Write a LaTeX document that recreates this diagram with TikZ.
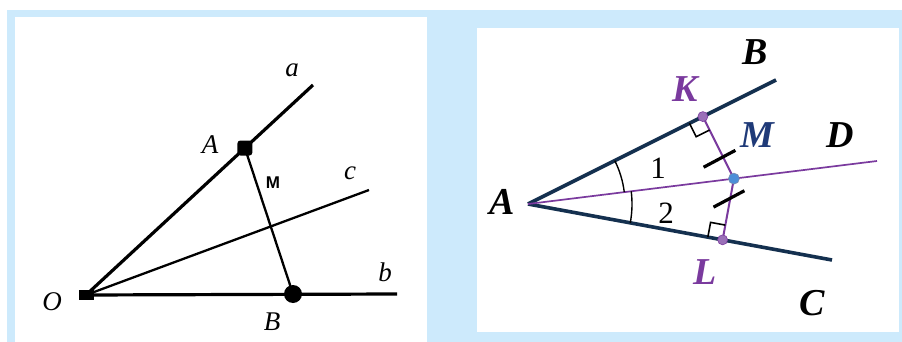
\documentclass[tikz,border=0pt]{standalone}
\usepackage{fontspec}
\setmainfont{Liberation Serif}
\setsansfont{Liberation Sans}
\usetikzlibrary{calc}
\definecolor{bgblue}{HTML}{CDEAFC}
\definecolor{navy}{HTML}{14304F}
\definecolor{purp}{HTML}{7A3A9E}
\definecolor{mblue}{HTML}{1F3A78}
\definecolor{kdot}{HTML}{9A70B8}
\definecolor{mdot}{HTML}{4C8FD8}
\begin{document}
\begin{tikzpicture}[x=1pt,y=-1pt,
  lray/.style={line width=3.2pt,black},
  lthin/.style={line width=2.3pt,black},
  llab/.style={inner sep=0pt,font=\fontsize{27}{27}\selectfont\itshape},
  rray/.style={line width=3.6pt,navy},
  bis/.style={line width=1.7pt,purp},
  perp/.style={line width=2pt,purp},
  tick/.style={line width=3.2pt,black},
  rangle/.style={line width=1.6pt,black},
  arcline/.style={line width=1.4pt,black},
  rlab/.style={inner sep=0pt,font=\fontsize{38}{38}\selectfont\bfseries\itshape},
  numlab/.style={inner sep=0pt,font=\fontsize{31}{31}\selectfont}]
\useasboundingbox (0,0) rectangle (902,342);
\fill[white] (0,0) rectangle (902,342);
\fill[bgblue] (7,10) rectangle (902,342);
\fill[white] (15,17) rectangle (427,342);
\fill[white] (477,28) rectangle (899,332);
% ---------- left figure ----------
\coordinate (O) at (86,295);
\coordinate (Ea) at (313,85);
\coordinate (Ec) at (369,190);
\coordinate (Eb) at (397,294);
\coordinate (PA) at ($(O)!0.70!(Ea)$);
\coordinate (PB) at (293,294);
\draw[lray] (O) -- (Ea);
\draw[lray] (O) -- (Eb);
\draw[lthin] (O) -- (Ec);
\draw[lthin] (PA) -- (PB);
\node[fill=black,minimum width=15pt,minimum height=10pt,inner sep=0pt] (mO) at (O) {};
\node[fill=black,rounded corners=3pt,minimum size=15pt,inner sep=0pt] (mA) at (PA) {};
\node[fill=black,circle,minimum size=18pt,inner sep=0pt] (mB) at (PB) {};
\node[llab] (la) at (292,70) {a};
\node[llab] (lA) at (210,145) {A};
\node[inner sep=0pt,font=\fontsize{17}{17}\selectfont\sffamily\bfseries] (lM) at (273,183) {M};
\node[llab] (lc) at (350,173) {c};
\node[llab] (lb) at (385,272) {b};
\node[llab] (lO) at (52,302) {O};
\node[llab] (lB) at (272,322) {B};
% ---------- right figure ----------
\coordinate (RA) at (528,204);
\coordinate (RB) at (776,80);
\coordinate (RC) at (832,260);
\coordinate (RD) at (877,161);
\coordinate (RM) at ($(RA)!0.590!(RD)$);
\coordinate (RK) at ($(RA)!(RM)!(RB)$);
\coordinate (RL) at ($(RA)!(RM)!(RC)$);
\draw[rray] (RA) -- (RB);
\draw[rray] (RA) -- (RC);
\draw[bis] (RA) -- (RD);
\draw[perp] (RK) -- (RM) -- (RL);
% right angle marks
\coordinate (k1) at ($(RK)!15pt!(RA)$);
\coordinate (k2) at ($(RK)!15pt!(RM)$);
\draw[rangle] (k1) -- ($(k1)+(k2)-(RK)$) -- (k2);
\coordinate (l1) at ($(RL)!15pt!(RA)$);
\coordinate (l2) at ($(RL)!15pt!(RM)$);
\draw[rangle] (l1) -- ($(l1)+(l2)-(RL)$) -- (l2);
% ticks
\coordinate (t1) at ($(RK)!0.65!(RM)$);
\coordinate (t2) at ($(RM)!0.32!(RL)$);
\draw[tick] ($(t1)+(208:22pt)$) -- ($(t1)+(28:14pt)$);
\draw[tick] ($(t2)+(208:19pt)$) -- ($(t2)+(28:16pt)$);
% angle arcs
\draw[arcline] ($(RA)+(26.57:97pt)$) arc[start angle=26.57, end angle=7.02, radius=97pt];
\draw[arcline] ($(RA)+(7.02:104pt)$) arc[start angle=7.02, end angle=-10.44, radius=104pt];
% points
\fill[kdot,draw=purp,line width=0.6pt] (RK) circle (5pt);
\fill[kdot,draw=purp,line width=0.6pt] (RL) circle (5pt);
\fill[mdot,draw=mblue!60,line width=0.6pt] (RM) circle (5.5pt);
% labels
\node[rlab] (rBl) at (755,52) {B};
\node[rlab,text=purp] (rKl) at (685,89) {K};
\node[rlab,text=mblue] (rMl) at (757,135) {M};
\node[rlab] (rDl) at (840,135) {D};
\node[rlab] (rAl) at (502,202) {A};
\node[numlab] (n1) at (658,168) {1};
\node[numlab] (n2) at (666,213) {2};
\node[rlab,text=purp] (rLl) at (705,272) {L};
\node[rlab] (rCl) at (812,303) {C};
\end{tikzpicture}
\end{document}
